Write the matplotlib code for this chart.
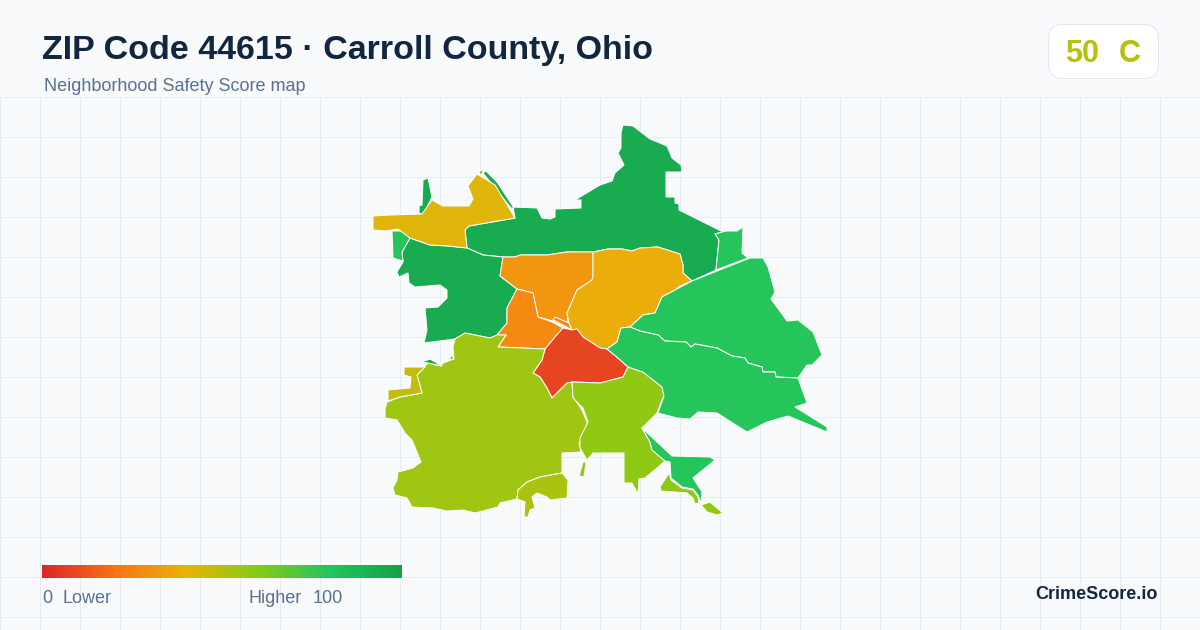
import numpy as np
import matplotlib
matplotlib.use("Agg")
import matplotlib.pyplot as plt
from matplotlib.colors import LinearSegmentedColormap, Normalize
from matplotlib.patches import Polygon, FancyBboxPatch

plt.rcParams['font.family'] = ['Liberation Sans', 'DejaVu Sans']

TITLE = "ZIP Code 44615 · Carroll County, Ohio"
SUBTITLE = "Neighborhood Safety Score map"
GRADE_SCORE = 50
GRADE = "C"
BRAND = "CrimeScore.io"

scale_stops = [0.0, 0.2, 0.4, 0.6, 0.8, 1.0]
scale_colors = ["#dc2626", "#f97316", "#eab308", "#84cc16", "#22c55e", "#16a34a"]

north = [(465,230),(469,226),(515,218),(513,207),(537,208),(542,218),(550,219),(555,217),(555,209),(581,208),(581,200),(575,200),(600,185),(612,181),(615,173),(624,165),(618,153),(621,148),(621,133),(623,125),(633,126),(650,139),(667,146),(672,158),(681,165),(682,172),(666,172),(666,197),(675,197),(675,203),(679,204),(679,210),(723,232),(715,234),(719,240),(716,270),(692,281),(683,273),(683,265),(680,254),(658,247),(640,248),(632,251),(622,249),(608,249),(593,252),(567,252),(547,255),(520,255),(515,257),(503,257),(483,255),(467,248)]
west = [(410,238),(402,252),(403,262),(397,272),(399,277),(408,273),(409,283),(415,287),(440,285),(447,290),(447,298),(438,307),(425,308),(427,330),(424,343),(455,339),(465,333),(490,338),(497,335),(507,323),(507,308),(517,289),(500,276),(503,257),(483,255),(467,248),(448,246),(430,245)]
west_tab = [(392,231),(402,231),(410,238),(402,252),(403,261),(393,258)]
nw_sliver = [(423,180),(428,178),(432,197),(423,215),(419,213),(419,206),(422,205)]
north_sliver = [(483,173),(486,171),(497,182),(514,208),(511,208)]
tip = [(479,173),(481,169),(483,172),(481,175)]
nw_yellow = [(373,216),(390,215),(422,214),(432,200),(443,206),(469,206),(473,199),(468,186),(477,174),(495,185),(515,218),(469,226),(465,230),(467,248),(448,246),(430,245),(410,238),(398,229),(385,231),(373,230)]
orange_top = [(503,257),(500,276),(517,289),(533,293),(538,317),(553,321),(568,322),(567,313),(577,290),(592,280),(593,277),(593,252),(567,252),(547,255),(520,255),(515,257)]
orange_low = [(517,289),(533,293),(538,317),(552,322),(563,328),(555,337),(545,349),(522,348),(498,347),(506,335),(497,335),(507,323),(507,308)]
orange_strip = [(553,320),(555,317),(569,323),(572,330),(563,325)]
amber = [(593,252),(608,249),(622,249),(632,251),(640,248),(658,247),(680,254),(683,265),(683,273),(692,281),(680,286),(675,290),(662,297),(655,313),(643,315),(630,327),(621,328),(617,342),(607,349),(600,348),(583,337),(577,329),(572,330),(569,323),(567,313),(577,290),(592,280),(593,277)]
red = [(563,328),(555,337),(545,349),(542,360),(533,373),(540,377),(547,388),(552,398),(567,383),(573,382),(600,383),(623,377),(628,367),(618,358),(607,349),(600,348),(583,337),(577,329),(572,330)]
southwest = [(498,347),(506,335),(497,335),(490,338),(465,333),(455,339),(453,347),(454,359),(443,363),(441,366),(428,363),(417,375),(422,393),(400,397),(387,402),(385,409),(385,418),(397,420),(405,433),(412,440),(421,462),(413,468),(398,472),(397,480),(393,488),(395,495),(407,498),(412,507),(433,508),(447,511),(463,510),(475,513),(498,507),(500,503),(517,499),(518,490),(527,482),(540,477),(562,473),(562,453),(581,452),(579,443),(587,432),(587,422),(582,410),(573,397),(572,382),(567,383),(552,398),(547,388),(540,377),(533,373),(542,360),(545,349),(522,348)]
south_mid = [(572,382),(600,383),(623,377),(628,367),(643,372),(662,387),(664,396),(662,400),(657,413),(642,428),(650,442),(652,450),(665,461),(657,468),(645,478),(639,479),(638,494),(632,483),(624,483),(624,453),(593,453),(587,460),(580,448),(580,438),(588,422),(583,408),(575,400),(573,397)]
spike = [(583,462),(586,462),(584,477),(579,476)]
east_upper = [(692,281),(750,258),(763,258),(768,267),(775,292),(771,299),(787,321),(798,320),(813,332),(822,355),(812,365),(807,365),(798,378),(776,377),(775,372),(763,372),(762,367),(748,363),(745,358),(732,356),(717,348),(695,344),(691,347),(686,342),(665,341),(658,335),(640,331),(630,327),(643,315),(655,313),(662,297),(675,290)]
east_lower = [(621,328),(630,327),(640,331),(658,335),(665,341),(686,342),(691,347),(695,344),(717,348),(732,356),(745,358),(748,363),(762,367),(763,372),(775,372),(776,377),(798,378),(807,403),(795,407),(827,427),(827,432),(788,416),(767,422),(747,432),(717,413),(698,412),(690,419),(677,418),(658,413),(664,396),(662,387),(643,372),(628,367),(618,358),(607,349),(617,342)]
northeast = [(715,234),(726,231),(737,231),(743,227),(742,253),(748,258),(716,270),(719,240)]
south_green = [(642,428),(650,442),(652,450),(665,461),(670,462),(671,478),(682,487),(693,489),(698,495),(701,503),(702,492),(693,478),(715,460),(710,457),(672,456)]
se_lime = [(669,473),(671,480),(682,488),(693,490),(698,497),(699,503),(695,504),(693,498),(687,493),(661,491),(660,487)]
se_tip = [(701,505),(710,502),(723,513),(717,515),(707,512)]
west_olive = [(404,367),(425,367),(417,375),(422,393),(400,397),(388,401),(388,390),(410,388),(411,377),(404,375)]
west_bit_a = [(452,347),(453,359),(449,360),(452,355)]
west_bit_b = [(422,362),(430,359),(442,366),(428,363)]
south_olive = [(517,499),(518,490),(527,482),(540,477),(562,473),(568,480),(567,498),(550,500),(547,497),(537,493),(532,497),(535,508),(530,510),(528,517),(524,517),(525,502)]

region_shapes = [north, west, west_tab, nw_sliver, north_sliver, tip, nw_yellow,
                 orange_top, orange_low, orange_strip, amber, red, southwest, south_mid,
                 spike, east_upper, east_lower, northeast, south_green, se_lime, se_tip,
                 west_olive, west_bit_a, west_bit_b, south_olive]
region_scores = [95, 95, 79, 95, 95, 57, 42,
                 31, 27, 27, 38, 8, 55, 57.5,
                 57.5, 79, 79, 79, 79, 57.5, 57.5,
                 48, 95, 95, 52]

cmap = LinearSegmentedColormap.from_list("safety", list(zip(scale_stops, scale_colors)))
norm = Normalize(0, 100)

fig = plt.figure(figsize=(12, 6.3), dpi=100, facecolor="#f8fafc")
ax = fig.add_axes([0, 0, 1, 1])
ax.set_xlim(0, 1200)
ax.set_ylim(630, 0)
ax.axis("off")

for x in range(0, 1201, 40):
    ax.plot([x, x], [97, 630], color="#e4edf3", lw=0.72, zorder=1)
for y in range(97, 630, 40):
    ax.plot([0, 1200], [y, y], color="#e4edf3", lw=0.72, zorder=1)

for shape, score in zip(region_shapes, region_scores):
    ax.add_patch(Polygon(shape, closed=True, facecolor=cmap(norm(score)),
                         edgecolor="white", lw=0.72, joinstyle="round", zorder=3))

ax.text(42, 59, TITLE, fontsize=24.5, fontweight="bold", color="#12263f", va="baseline", ha="left", zorder=5)
ax.text(44, 91, SUBTITLE, fontsize=12.95, color="#5a7090", va="baseline", ha="left", zorder=5)

ax.add_patch(FancyBboxPatch((1048.5, 24.5), 110, 54, boxstyle="round,pad=0,rounding_size=14",
                            facecolor="white", edgecolor="#e2e8f0", lw=0.72, zorder=4))
grade_color = cmap(norm(GRADE_SCORE))
ax.text(1082, 62, str(GRADE_SCORE), fontsize=22, fontweight="bold", color=grade_color, va="baseline", ha="center", zorder=5)
ax.text(1130, 62, GRADE, fontsize=22, fontweight="bold", color=grade_color, va="baseline", ha="center", zorder=5)

gradient = np.linspace(0, 1, 360).reshape(1, -1)
ax.imshow(gradient, extent=(42, 402, 578, 565), cmap=cmap, aspect="auto", zorder=4, interpolation="bilinear")
ax.set_xlim(0, 1200)
ax.set_ylim(630, 0)

ax.text(42, 603, "0", fontsize=13, color="#5a7090", va="baseline", ha="left", zorder=5)
ax.text(62, 603, "Lower", fontsize=13, color="#5a7090", va="baseline", ha="left", zorder=5)
ax.text(249, 603, "Higher", fontsize=13, color="#5a7090", va="baseline", ha="left", zorder=5)
ax.text(313, 603, "100", fontsize=13, color="#5a7090", va="baseline", ha="left", zorder=5)

ax.text(1158, 599, BRAND, fontsize=13, fontweight="bold", color="#12263f", va="baseline", ha="right", zorder=5)

fig.savefig("out.png", dpi=100, facecolor=fig.get_facecolor())
